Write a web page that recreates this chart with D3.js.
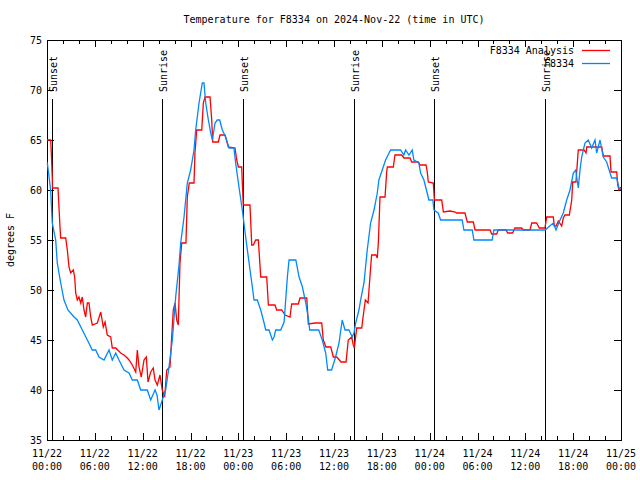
<!DOCTYPE html>
<html><head><meta charset="utf-8">
<script src="https://cdn.jsdelivr.net/npm/d3@7"></script>
<style>
body{margin:0;background:#fff;}
svg{display:block;}
text{font-family:"DejaVu Sans Mono",monospace;font-size:10px;fill:#000;}
</style></head>
<body><svg id="c" width="640" height="480"></svg>
<script>
const title = "Temperature for F8334 on 2024-Nov-22 (time in UTC)";
const yLabel = "degrees F";
const seriesNames = ["F8334 Analysis", "F8334"];
const seriesColors = ["#ff0000", "#0088ff"];
const yTicks = [35, 40, 45, 50, 55, 60, 65, 70, 75];
// hours since 2024-11-22 00:00 UTC
const sunEvents = [[0.59,"Sunset"],[14.47,"Sunrise"],[24.63,"Sunset"],[38.56,"Sunrise"],[48.6,"Sunset"],[62.5,"Sunrise"]];

const analysisHours = [0,0.46,0.54,0.66,0.69,1.38,1.63,1.72,2.35,2.55,2.76,2.97,3.30,3.47,3.60,3.80,4.01,4.23,4.43,4.64,4.85,5.06,5.27,5.48,5.68,6.31,6.74,7.06,7.28,7.56,7.99,8.19,8.62,9.24,9.66,10.07,10.29,10.70,11.13,11.33,11.54,11.83,12.17,12.46,12.67,13.01,13.33,13.55,13.84,14.17,14.46,14.76,15.02,15.43,15.64,15.84,16.06,16.27,16.47,16.68,16.90,17.43,17.60,17.85,18.44,18.56,18.78,19.41,19.61,19.82,20.45,20.66,20.79,21.49,21.70,22.33,22.74,23.58,23.80,24.00,24.42,24.62,25.46,25.68,25.87,26.18,26.51,26.81,27.56,27.77,28.60,28.81,29.44,29.86,30.48,30.69,31.52,31.74,32.58,32.78,33.62,34.46,34.66,34.99,35.59,35.92,36.34,36.88,37.51,37.79,38.22,38.42,38.55,38.85,39.48,39.60,39.93,40.27,40.60,40.72,41.26,41.43,41.56,41.77,42.40,42.61,42.69,43.44,43.65,44.49,44.78,45.53,45.75,46.57,46.79,47.54,47.70,47.83,48.46,48.59,49.51,49.72,50.56,51.19,51.39,52.43,52.72,53.48,53.69,55.57,55.78,56.41,56.61,57.58,57.79,58.41,58.70,59.54,59.74,60.59,60.80,61.42,61.75,62.46,62.68,63.51,63.64,63.85,64.14,64.56,64.76,64.97,65.52,65.82,65.94,66.35,66.64,67.36,67.61,67.70,69.58,69.78,70.62,70.75,71.46,71.59,71.75,72];
const analysisTemps = [65,65,63.7,61.3,60.2,60.2,56.3,55.2,55.2,54,52.3,51.7,52,51.3,49.7,49,49.3,48.7,49.3,48,47.3,48.7,48.7,47.3,46.5,46.7,47.8,46.3,46.8,45.5,45.3,44.2,44.2,43.7,43.5,43.2,43,42.5,41.8,44,42.3,41.3,43,43.3,40.8,41.8,42.2,41,40.5,41.5,40,39.3,42,42.3,45.3,48,48.7,47,46.5,52.7,54.7,54.7,59.3,60.7,60.7,63.7,66,66,68.7,69.3,69.3,67,64.8,64.8,65.5,65.5,64.3,64.2,63,62.3,62.3,58.5,58.5,54.5,54.5,55,55,51.3,51.3,48.5,48.5,48,48,47.5,47.3,48.6,48.6,49.2,49.2,46.6,46.7,46.7,45,44.3,44.3,43.3,43.3,42.8,42.8,45,45.3,44.5,44.2,46.2,46.2,47,49,48.7,52.3,53.5,53.5,53.2,54.7,59.3,59.3,61.8,62.3,62.3,63.5,63.5,63.2,63.2,62.8,62.8,62.5,62.5,61.8,60.8,60.7,59,59,57.8,57.9,57.8,57.7,57.7,56.8,56.8,56,56,55.6,55.6,56,56,55.7,55.7,56.2,56.2,56,56,56.7,56.7,56.2,56.2,57.3,57.3,56.4,56.4,56.9,56.4,57.2,57.5,57.5,59,60.8,60.8,64,64,63.7,64.3,64.3,63.4,63.4,61.8,61.8,60.5,60,60.3];

const obsHours = [0,0.04,0.46,0.66,1.09,1.29,1.72,2.13,2.63,3.39,3.80,4.43,5.06,5.68,6.11,6.52,7.15,7.78,8.19,8.62,9.03,9.66,10.29,10.70,11.33,11.75,12.58,13.01,13.55,13.80,14.05,14.46,14.88,15.30,15.72,16.14,16.56,16.77,17.19,17.60,18.02,18.44,18.65,19.07,19.48,19.69,19.91,20.24,20.54,20.74,21.08,21.36,21.66,21.99,22.41,22.83,23.45,23.66,24.08,24.50,24.92,25.35,25.76,25.97,26.38,26.81,27.23,27.44,27.85,28.27,28.48,28.69,29.32,29.74,30.15,30.36,31.21,31.62,32.04,32.46,32.75,32.96,34.09,34.53,34.96,35.21,35.70,36.20,36.63,37.03,37.38,37.88,38.29,38.50,38.72,39.13,39.34,39.76,40.17,40.59,41.02,41.43,41.63,42.05,42.47,43.10,44.35,44.77,44.98,45.40,45.81,46.02,46.65,46.86,47.28,47.69,47.90,48.40,48.53,49.07,49.37,52.08,52.29,53.34,53.55,55.84,56.05,62.47,63.51,63.85,64.35,64.76,65.19,65.60,66.02,66.32,66.64,66.86,67.07,67.48,67.90,68.32,68.74,68.95,69.37,69.78,70.20,70.83,71.46,71.75,72];
const obsTemps = [62.7,62.7,60,56.7,55,52.7,50.7,49,48,47.3,47,46,45,44,44,43.3,43,44,43,43.7,43,42,41.7,41,41,40,40,39,40,39.5,38,39,40,42.3,45,49.3,52.5,54.7,57.3,60.7,62,64,66,68.7,70.7,70.7,68.7,67,65.7,65,66.7,67,67,66,65.3,64.2,64.2,62.7,60.3,58,55.3,52.7,50.3,49,49,48,46.7,46,46,45,45.3,46,46,46.8,51.3,53,53,51.3,50.3,48.7,47.3,46,46,45,43.7,42,42,43.3,44.7,47,46,46,45.3,45.7,46.7,48,49,50.7,54,56.7,58,59.7,61,62,63,64,64,63.5,64,63.5,64,63,62.7,61.7,61,59.7,59,59,58,57.7,57,57,56,56,55,55,56,56,56.7,56,57,57.7,59,60,61.7,62,60.2,62,63.3,64.7,65,64.2,65,63.7,65,63.3,62.8,61.2,61.2,60.2,60];

const base = Date.UTC(2024, 10, 22);
const toDate = h => new Date(base + h * 3600e3);

const svg = d3.select("#c");
const m = {l:47, r:621, t:40, b:440};
const x = d3.scaleUtc().domain([toDate(0), toDate(72)]).range([m.l, m.r]);
const y = d3.scaleLinear().domain([35, 75]).range([m.b, m.t]);

// title
svg.append("text").attr("x", 334).attr("y", 23).attr("text-anchor","middle").text(title);
// y label
svg.append("text").attr("transform","translate(14,240) rotate(-90)").attr("text-anchor","middle").text(yLabel);

// axes frame
const g = svg.append("g").attr("shape-rendering","crispEdges");
g.append("rect").attr("x",m.l+0.5).attr("y",m.t+0.5).attr("width",m.r-m.l).attr("height",m.b-m.t)
  .attr("fill","none").attr("stroke","#000");

// y ticks both sides
yTicks.forEach(v=>{
  const yy = Math.round(y(v))+0.5;
  g.append("line").attr("x1",m.l).attr("x2",m.l+7).attr("y1",yy).attr("y2",yy).attr("stroke","#000");
  g.append("line").attr("x1",m.r-7).attr("x2",m.r).attr("y1",yy).attr("y2",yy).attr("stroke","#000");
  svg.append("text").attr("x",m.l-5).attr("y",y(v)+4).attr("text-anchor","end").text(v);
});

// x ticks
const major = x.ticks(d3.utcHour.every(6));
const minor = x.ticks(d3.utcHour.every(2));
minor.forEach(d=>{
  const xx = Math.round(x(d))+0.5;
  const isMaj = d.getUTCHours()%6===0;
  const len = isMaj?7:4;
  g.append("line").attr("x1",xx).attr("x2",xx).attr("y1",m.b).attr("y2",m.b-len).attr("stroke","#000");
  g.append("line").attr("x1",xx).attr("x2",xx).attr("y1",m.t).attr("y2",m.t+len).attr("stroke","#000");
});
const fmtD = d3.utcFormat("%m/%d"), fmtT = d3.utcFormat("%H:%M");
major.forEach(d=>{
  const t = svg.append("text").attr("x",x(d)).attr("y",457).attr("text-anchor","middle");
  t.append("tspan").attr("x",x(d)).text(fmtD(d));
  t.append("tspan").attr("x",x(d)).attr("dy",13).text(fmtT(d));
});

// sun events
sunEvents.forEach(([h,lab])=>{
  const xx = Math.round(x(toDate(h)))+0.5;
  g.append("line").attr("x1",xx).attr("x2",xx).attr("y1",99).attr("y2",m.b).attr("stroke","#000").attr("stroke-width",1);
  svg.append("text").attr("transform",`translate(${xx+4},92) rotate(-90)`).attr("text-anchor","start").text(lab);
});

// series
const line = d3.line().x(d=>x(toDate(d[0]))).y(d=>y(d[1]));
const sA = analysisHours.map((h,i)=>[h, analysisTemps[i]]);
const sO = obsHours.map((h,i)=>[h, obsTemps[i]]);
[sA, sO].forEach((s,i)=>{
  svg.append("path").datum(s).attr("d",line).attr("fill","none")
    .attr("stroke",seriesColors[i]).attr("stroke-width",1.3).attr("stroke-linejoin","miter");
});

// legend
seriesNames.forEach((n,i)=>{
  const yy = 50 + i*13;
  svg.append("text").attr("x",574).attr("y",yy+4).attr("text-anchor","end").text(n);
  svg.append("line").attr("x1",582).attr("x2",610).attr("y1",yy+0.5).attr("y2",yy+0.5)
    .attr("stroke",seriesColors[i]).attr("stroke-width",1.3);
});
</script></body></html>
